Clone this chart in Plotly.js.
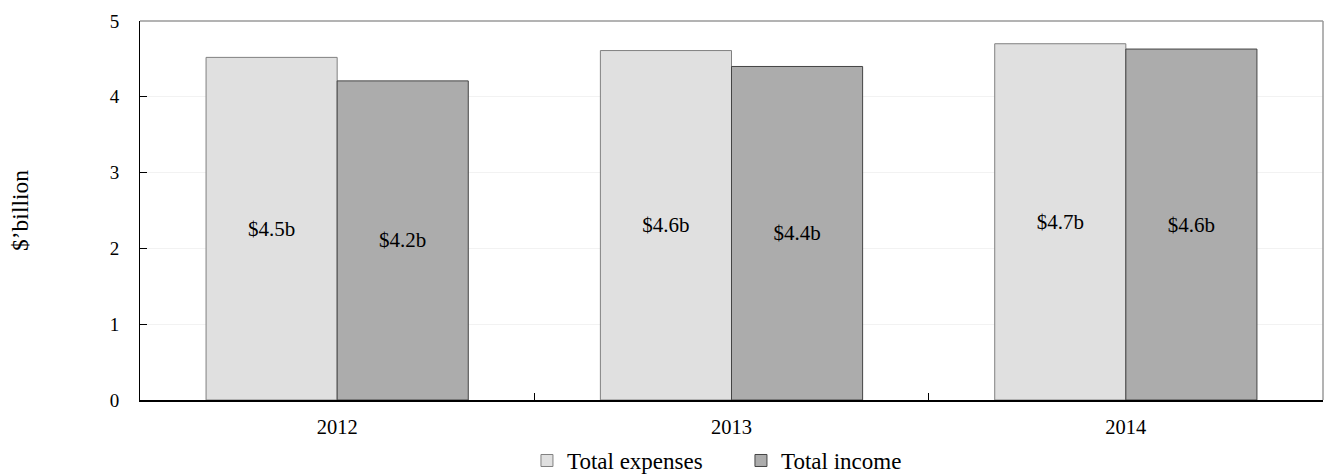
<!DOCTYPE html>
<html>
<head>
<meta charset="utf-8">
<script src="https://cdn.plot.ly/plotly-3.0.1.min.js"></script>
<style>
  html, body { margin: 0; padding: 0; background: #ffffff; }
  #chart { width: 1324px; height: 475px; }
</style>
</head>
<body>
<div id="chart"></div>
<script>
// Annual totals, in billions of dollars
const years = ['2012', '2013', '2014'];
const totalExpenses = [4.52, 4.61, 4.70];
const totalIncome = [4.21, 4.40, 4.63];
const yTicks = [0, 1, 2, 3, 4, 5];

const serif = 'Liberation Serif, Times New Roman, serif';

function label(v) {
  return '$' + v.toFixed(1) + 'b';
}

const traces = [
  {
    type: 'bar',
    name: 'Total expenses',
    x: years,
    y: totalExpenses,
    text: totalExpenses.map(label),
    textposition: 'inside',
    insidetextanchor: 'middle',
    textangle: 0,
    textfont: { family: serif, size: 21, color: '#000000' },
    marker: { color: '#e0e0e0', line: { color: '#808080', width: 1 } },
    hoverinfo: 'skip'
  },
  {
    type: 'bar',
    name: 'Total income',
    x: years,
    y: totalIncome,
    text: totalIncome.map(label),
    textposition: 'inside',
    insidetextanchor: 'middle',
    textangle: 0,
    textfont: { family: serif, size: 21, color: '#000000' },
    marker: { color: '#acacac', line: { color: '#444444', width: 1 } },
    hoverinfo: 'skip'
  }
];

const layout = {
  width: 1324,
  height: 475,
  margin: { l: 140, r: 1, t: 21, b: 75, autoexpand: false },
  paper_bgcolor: '#ffffff',
  plot_bgcolor: '#ffffff',
  font: { family: serif, size: 20, color: '#000000' },
  barmode: 'group',
  bargap: 0.335,
  bargroupgap: 0,
  showlegend: true,
  legend: {
    orientation: 'h',
    x: 0.508,
    xanchor: 'center',
    y: -0.103,
    yanchor: 'top',
    itemwidth: 30,
    entrywidth: 169,
    entrywidthmode: 'pixels',
    font: { family: serif, size: 23, color: '#000000' },
    traceorder: 'normal'
  },
  xaxis: {
    type: 'category',
    showline: true,
    linecolor: '#000000',
    linewidth: 1.5,
    ticks: 'inside',
    tickson: 'boundaries',
    ticklen: 7,
    tickcolor: '#000000',
    tickwidth: 1,
    ticklabelstandoff: 8,
    showgrid: false,
    zeroline: false,
    tickfont: { family: serif, size: 20.5, color: '#000000' },
    fixedrange: true
  },
  yaxis: {
    range: [0, 5],
    tickvals: yTicks,
    ticktext: yTicks.map(String),
    showline: true,
    linecolor: '#000000',
    linewidth: 1,
    ticks: 'inside',
    ticklen: 7,
    tickcolor: '#000000',
    ticklabelstandoff: 16,
    showgrid: true,
    gridcolor: '#f2f2f2',
    gridwidth: 1,
    zeroline: false,
    tickfont: { family: serif, size: 19, color: '#000000' },
    title: {
      text: '$\u2019billion',
      font: { family: serif, size: 23.5, color: '#000000' },
      standoff: 74
    },
    fixedrange: true
  },
  shapes: [
    {
      type: 'line', xref: 'paper', yref: 'paper',
      x0: 0, x1: 1, y0: 1, y1: 1,
      line: { color: '#9a9a9a', width: 1.5 },
      layer: 'above'
    },
    {
      type: 'line', xref: 'paper', yref: 'paper',
      x0: 1, x1: 1, y0: 0, y1: 1,
      line: { color: '#9a9a9a', width: 1.5 },
      layer: 'above'
    }
  ]
};

Plotly.newPlot('chart', traces, layout, { displayModeBar: false, staticPlot: true });
</script>
</body>
</html>
